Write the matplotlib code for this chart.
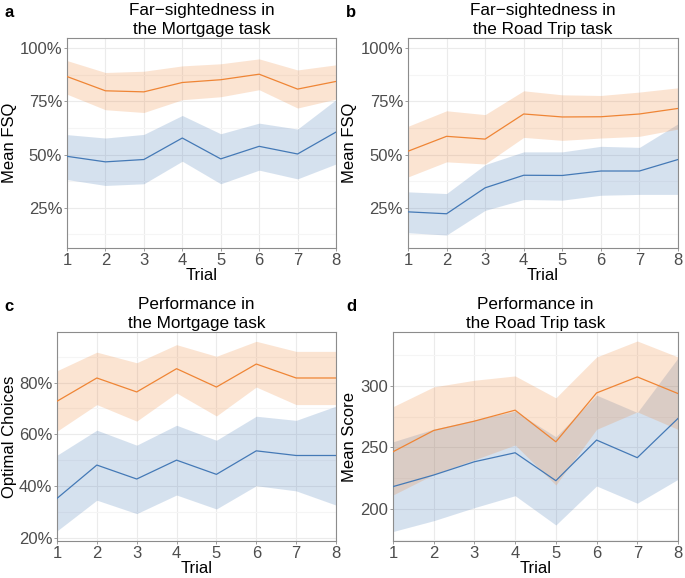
import numpy as np
import matplotlib
matplotlib.use("Agg")
import matplotlib.pyplot as plt
from matplotlib.ticker import FuncFormatter, FixedLocator

plt.rcParams.update({
    "font.family": ["Liberation Sans", "DejaVu Sans"],
    "font.size": 12,
})

trial = [1, 2, 3, 4, 5, 6, 7, 8]

# a: far-sightedness, Mortgage task (fraction)
a_or_mean = [0.867, 0.800, 0.795, 0.839, 0.852, 0.878, 0.808, 0.844]
a_or_hi = [0.942, 0.886, 0.892, 0.917, 0.927, 0.950, 0.898, 0.922]
a_or_lo = [0.784, 0.711, 0.698, 0.758, 0.772, 0.805, 0.719, 0.761]
a_bl_mean = [0.492, 0.466, 0.477, 0.578, 0.480, 0.539, 0.503, 0.606]
a_bl_hi = [0.594, 0.578, 0.595, 0.684, 0.598, 0.648, 0.620, 0.758]
a_bl_lo = [0.383, 0.355, 0.363, 0.469, 0.363, 0.427, 0.386, 0.456]

# b: far-sightedness, Road Trip task
b_or_mean = [0.516, 0.586, 0.573, 0.691, 0.677, 0.678, 0.691, 0.717]
b_or_hi = [0.633, 0.706, 0.688, 0.800, 0.781, 0.778, 0.794, 0.814]
b_or_lo = [0.395, 0.466, 0.456, 0.581, 0.567, 0.578, 0.586, 0.620]
b_bl_mean = [0.231, 0.222, 0.344, 0.403, 0.402, 0.423, 0.423, 0.477]
b_bl_hi = [0.325, 0.317, 0.453, 0.513, 0.513, 0.539, 0.534, 0.645]
b_bl_lo = [0.133, 0.122, 0.238, 0.289, 0.286, 0.309, 0.313, 0.313]

# c: optimal choices, Mortgage task
c_or_mean = [0.728, 0.818, 0.764, 0.854, 0.783, 0.872, 0.818, 0.818]
c_or_hi = [0.846, 0.918, 0.877, 0.947, 0.902, 0.960, 0.921, 0.921]
c_or_lo = [0.612, 0.715, 0.651, 0.760, 0.671, 0.783, 0.715, 0.715]
c_bl_mean = [0.352, 0.481, 0.427, 0.500, 0.445, 0.536, 0.518, 0.518]
c_bl_hi = [0.519, 0.616, 0.558, 0.635, 0.577, 0.670, 0.654, 0.709]
c_bl_lo = [0.226, 0.345, 0.293, 0.365, 0.311, 0.401, 0.381, 0.326]

# d: mean score, Road Trip task
d_or_mean = [246.5, 263.8, 271.4, 280.3, 254.6, 294.3, 307.3, 293.8]
d_or_hi = [283.1, 299.2, 304.6, 308.1, 290.3, 323.5, 336.5, 323.5]
d_or_lo = [211.4, 228.0, 240.0, 252.0, 219.5, 264.7, 278.9, 264.7]
d_bl_mean = [218.2, 227.6, 238.4, 245.7, 223.0, 256.0, 241.7, 273.6]
d_bl_hi = [254.6, 264.9, 272.2, 279.5, 258.7, 292.5, 278.4, 322.7]
d_bl_lo = [181.7, 190.5, 201.1, 210.8, 187.0, 218.7, 204.7, 224.1]

ORANGE = "#EF8535"
BLUE = "#4479B6"
GRID = "#EBEBEB"
GRID_MINOR = "#F5F5F5"

fig = plt.figure(figsize=(6.85, 5.78), dpi=100)


def pct(v, pos):
    return f"{v * 100:.0f}%"


def panel(rect, letter, lx, title, ylabel, ylim, major, minor, bands, is_pct, ylab_x):
    ax = fig.add_axes(rect)
    for mean, lo, hi, col in bands:
        ax.fill_between(trial, lo, hi, color=col, alpha=0.22, lw=0, zorder=2)
    for mean, lo, hi, col in bands:
        ax.plot(trial, mean, color=col, lw=0.9, zorder=3)
    ax.set_xlim(1, 8)
    ax.set_ylim(*ylim)
    ax.set_xticks(trial)
    ax.yaxis.set_major_locator(FixedLocator(major))
    ax.yaxis.set_minor_locator(FixedLocator(minor))
    if is_pct:
        ax.yaxis.set_major_formatter(FuncFormatter(pct))
    ax.grid(True, which="major", color=GRID, lw=0.8, zorder=0)
    ax.grid(True, which="minor", axis="y", color=GRID_MINOR, lw=0.8, zorder=0)
    ax.set_axisbelow(True)
    for s in ax.spines.values():
        s.set_color("#8C8C8C")
        s.set_linewidth(0.8)
    ax.tick_params(which="major", length=2.5, width=0.6, color="#8C8C8C",
                   labelcolor="#4D4D4D", labelsize=12, pad=1)
    ax.tick_params(which="minor", length=0)
    ax.set_xlabel("Trial", fontsize=12, labelpad=0)
    ax.set_ylabel(ylabel, fontsize=12)
    ax.yaxis.set_label_coords(ylab_x, 0.5)
    ax.set_title(title, fontsize=12.3, pad=3, linespacing=1.3)
    fig.text(lx, rect[1] + rect[3] + 0.044, letter, fontsize=12,
             fontweight="bold", ha="left", va="center")
    return ax


panel([0.0978, 0.5709, 0.3927, 0.3633], "a", 0.006, "Far\u2212sightedness in\nthe Mortgage task",
      "Mean FSQ", (0.061, 1.048), [0.25, 0.5, 0.75, 1.0], [0.125, 0.375, 0.625, 0.875],
      [(a_bl_mean, a_bl_lo, a_bl_hi, BLUE), (a_or_mean, a_or_lo, a_or_hi, ORANGE)], True, -0.186)

panel([0.5956, 0.5709, 0.3942, 0.3633], "b", 0.505, "Far\u2212sightedness in\nthe Road Trip task",
      "Mean FSQ", (0.061, 1.048), [0.25, 0.5, 0.75, 1.0], [0.125, 0.375, 0.625, 0.875],
      [(b_bl_mean, b_bl_lo, b_bl_hi, BLUE), (b_or_mean, b_or_lo, b_or_hi, ORANGE)], True, -0.189)

panel([0.0832, 0.0640, 0.4073, 0.3616], "c", 0.006, "Performance in\nthe Mortgage task",
      "Optimal Choices", (0.187, 0.996), [0.2, 0.4, 0.6, 0.8], [0.3, 0.5, 0.7, 0.9],
      [(c_bl_mean, c_bl_lo, c_bl_hi, BLUE), (c_or_mean, c_or_lo, c_or_hi, ORANGE)], True, -0.143)

panel([0.5737, 0.0640, 0.4161, 0.3616], "d", 0.505, "Performance in\nthe Road Trip task",
      "Mean Score", (174, 343.8), [200, 250, 300], [175, 225, 275, 325],
      [(d_bl_mean, d_bl_lo, d_bl_hi, BLUE), (d_or_mean, d_or_lo, d_or_hi, ORANGE)], False, -0.126)

fig.savefig("out.png", dpi=100)
